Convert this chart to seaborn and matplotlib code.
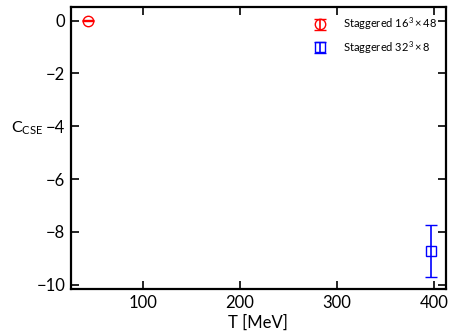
import matplotlib
matplotlib.use("Agg")
import matplotlib.pyplot as plt
import seaborn as sns
import pandas as pd

# lattice results for C_CSE
labels = [r"Staggered $16^3\times48$", r"Staggered $32^3\times8$"]
temps = [44.0, 397.0]
c_cse = [0.0, -8.73]
c_err = [0.02, 0.97]
colors = ["red", "blue"]
markers = ["o", "s"]

df = pd.DataFrame({"T": temps, "C": c_cse, "err": c_err, "label": labels})

sns.set_style("ticks")
plt.rcParams["font.family"] = ["Lato", "DejaVu Sans"]
plt.rcParams["mathtext.fontset"] = "custom"
plt.rcParams["mathtext.rm"] = "Lato"
plt.rcParams["mathtext.it"] = "Lato"
plt.rcParams["axes.edgecolor"] = "black"
plt.rcParams["xtick.color"] = "black"
plt.rcParams["ytick.color"] = "black"
plt.rcParams["text.color"] = "black"
plt.rcParams["axes.labelcolor"] = "black"

fig = plt.figure(figsize=(4.49, 3.33), dpi=100)
ax = fig.add_axes([0.1575, 0.132, 0.8355, 0.847])

for i, row in df.iterrows():
    ax.errorbar(row["T"], row["C"], yerr=row["err"], fmt=markers[i], mfc="none",
                color=colors[i], ms=7.5 if i == 0 else 7, mew=1.0, capsize=4.5,
                elinewidth=1.2, capthick=1.2, label=row["label"])

ax.set_xlim(26, 412)
ax.set_ylim(-10.17, 0.52)
ax.set_xticks([100, 200, 300, 400])
ax.set_yticks([0, -2, -4, -6, -8, -10])
ax.tick_params(direction="in", top=True, right=True, length=6, width=1.2,
               labelsize=12, pad=4)
for s in ax.spines.values():
    s.set_linewidth(1.6)

ax.set_xlabel("T [MeV]", fontsize=12, labelpad=3)
ax.set_ylabel(r"C$_{\mathrm{CSE}}$", fontsize=11.5, rotation=0, ha="center", va="center")
ax.yaxis.set_label_coords(-0.117, 0.57)
ax.legend(loc="upper right", frameon=False, fontsize=8, handletextpad=1.0,
          labelspacing=0.6, borderaxespad=0.5, borderpad=0.3)

fig.savefig("out.png", dpi=100)
